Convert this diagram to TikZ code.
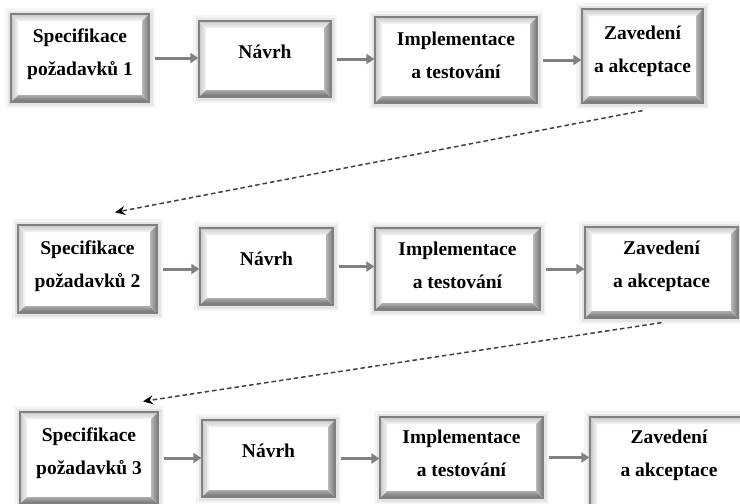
\documentclass[tikz,border=0pt]{standalone}
\usepackage{fontspec}
\setmainfont{Liberation Serif}
\usetikzlibrary{arrows.meta,calc}

\tikzset{
  bev/.store in=\bev, bev=7pt,
  % framed box with bevelled inner edges
  box/.style={rectangle, inner sep=0pt, fill=white, draw=black!50, line width=1.3pt,
    preaction={draw=black, draw opacity=0.04, line width=12pt},
    preaction={draw=black, draw opacity=0.07, line width=7pt},
    path picture={
      \coordinate (pnw) at (path picture bounding box.north west);
      \coordinate (pne) at (path picture bounding box.north east);
      \coordinate (psw) at (path picture bounding box.south west);
      \coordinate (pse) at (path picture bounding box.south east);
      \coordinate (inw) at ([shift={(\bev,-\bev)}]pnw);
      \coordinate (ine) at ([shift={(-\bev,-\bev)}]pne);
      \coordinate (isw) at ([shift={(\bev,\bev)}]psw);
      \coordinate (ise) at ([shift={(-\bev,\bev)}]pse);
      \fill[top color=black!22, bottom color=black!4] (pnw) -- (pne) -- (ine) -- (inw) -- cycle;
      \fill[left color=black!22, right color=black!4] (pnw) -- (inw) -- (isw) -- (psw) -- cycle;
      \fill[left color=black!28, right color=black!52] (pne) -- (pse) -- (ise) -- (ine) -- cycle;
      \fill[top color=black!32, bottom color=black!58] (psw) -- (pse) -- (ise) -- (isw) -- cycle;
    }},
  lbl/.style={align=center, inner sep=0pt, font=\fontsize{19.5}{33}\selectfont\bfseries},
  arr/.style={draw=black!50, line width=3pt, -{Triangle[length=8pt,width=10pt]}, shorten <=5pt},
  dsh/.style={draw=black!75, line width=1.5pt, dash pattern=on 4.5pt off 3pt,
    -{Stealth[length=10pt,width=9pt,black]}},
}

\begin{document}
\begin{tikzpicture}[x=1pt,y=-1pt]
\clip (0,0) rectangle (740,504);

% row 1
\node[box, minimum width=138pt, minimum height=88pt] (a1) at (80,58) {};
\node[box, minimum width=132pt, minimum height=76pt] (a2) at (265,59) {};
\node[box, minimum width=162pt, minimum height=86pt] (a3) at (456,60) {};
\node[box, minimum width=121pt, minimum height=94pt] (a4) at (642.5,56) {};
% row 2
\node[box, minimum width=139pt, minimum height=88pt] (b1) at (87.5,269) {};
\node[box, minimum width=133pt, minimum height=77pt] (b2) at (266.5,266.5) {};
\node[box, minimum width=165pt, minimum height=82pt] (b3) at (457.5,269) {};
\node[box, minimum width=153pt, minimum height=91pt] (b4) at (661.5,272.5) {};
% row 3
\node[box, minimum width=138pt, minimum height=92pt] (c1) at (89,458) {};
\node[box, minimum width=133pt, minimum height=77pt] (c2) at (268.5,458.5) {};
\node[box, minimum width=163pt, minimum height=81pt] (c3) at (461.5,457.5) {};
\node[box, minimum width=158pt, minimum height=98pt] (c4) at (669,466) {};

% labels
\node[lbl] (a1t) at ([yshift=4pt]a1.center) {Specifikace\\požadavků 1};
\node[lbl] (a2t) at ([yshift=7pt]a2.center) {Návrh};
\node[lbl] (a3t) at ([yshift=5pt]a3.center) {Implementace\\a testování};
\node[lbl] (a4t) at ([yshift=5pt]a4.center) {Zavedení\\a akceptace};
\node[lbl] (b1t) at ([yshift=3pt]b1.center) {Specifikace\\požadavků 2};
\node[lbl] (b2t) at ([yshift=8pt]b2.center) {Návrh};
\node[lbl] (b3t) at ([yshift=4pt]b3.center) {Implementace\\a testování};
\node[lbl] (b4t) at ([yshift=6.5pt]b4.center) {Zavedení\\a akceptace};
\node[lbl] (c1t) at ([yshift=5pt]c1.center) {Specifikace\\požadavků 3};
\node[lbl] (c2t) at ([yshift=8pt]c2.center) {Návrh};
\node[lbl] (c3t) at ([yshift=4.5pt]c3.center) {Implementace\\a testování};
\node[lbl] (c4t) at ([yshift=11pt]c4.center) {Zavedení\\a akceptace};

% flow within each row
\draw[arr] (a1.east) -- (a1.east -| a2.west);
\draw[arr] (a2.east) -- (a2.east -| a3.west);
\draw[arr] (a3.east) -- (a3.east -| a4.west);
\draw[arr] (b1.east) -- (b1.east -| b2.west);
\draw[arr] (b2.east) -- (b2.east -| b3.west);
\draw[arr] (b3.east) -- (b3.east -| b4.west);
\draw[arr] (c1.east) -- (c1.east -| c2.west);
\draw[arr] (c2.east) -- (c2.east -| c3.west);
\draw[arr] (c3.east) -- (c3.east -| c4.west);

% iteration links between rows
\coordinate (d1s) at ([yshift=-7pt]a4.south);
\coordinate (d1e) at ([shift={(27.5pt,12pt)}]b1.north);
\coordinate (d2s) at ([yshift=-4pt]b4.south);
\coordinate (d2e) at ([shift={(54pt,10pt)}]c1.north);
\draw[dsh] (d1s) -- (d1e);
\draw[dsh] (d2s) -- (d2e);
\end{tikzpicture}
\end{document}
